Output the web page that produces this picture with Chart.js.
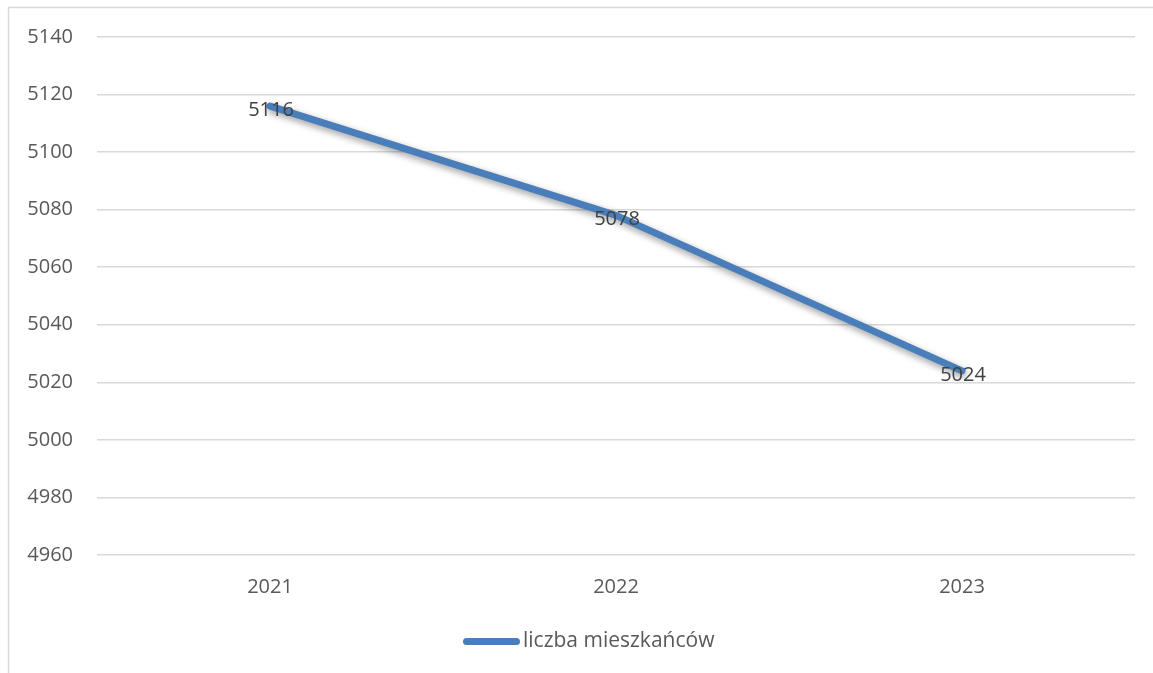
<!DOCTYPE html>
<html><head><meta charset="utf-8">
<script src="https://cdn.jsdelivr.net/npm/chart.js@4"></script>
<style>html,body{margin:0;padding:0;background:#fff;}#wrap{width:1153px;height:673px;}</style>
</head><body><div id="wrap"><canvas id="c" width="1153" height="673"></canvas></div>
<script>
const categories = ['2021', '2022', '2023'];
const residents = [5116, 5078, 5024];
const seriesName = 'liczba mieszkańców';
const yTicks = [4960, 4980, 5000, 5020, 5040, 5060, 5080, 5100, 5120, 5140];

const FONT = "'Open Sans', sans-serif";
const TXT = '#595959';
const BLUE = '#4a7ebb';

const framePlugin = {
  id: 'frame',
  beforeDraw(chart) {
    const ctx = chart.ctx;
    ctx.save();
    ctx.fillStyle = '#fff';
    ctx.fillRect(0, 0, chart.width, chart.height);
    ctx.strokeStyle = '#d9d9d9';
    ctx.lineWidth = 1.5;
    ctx.strokeRect(8.5, 7.5, chart.width + 20, chart.height + 20);
    ctx.restore();
  }
};
const shadowPlugin = {
  id: 'lineShadow',
  beforeDatasetDraw(chart) {
    const ctx = chart.ctx;
    ctx.save();
    ctx.shadowColor = 'rgba(0,0,0,0.4)';
    ctx.shadowBlur = 7;
    ctx.shadowOffsetX = 1;
    ctx.shadowOffsetY = 3;
  },
  afterDatasetDraw(chart) { chart.ctx.restore(); }
};
const labelPlugin = {
  id: 'valLabels',
  afterDatasetsDraw(chart) {
    const ctx = chart.ctx;
    const meta = chart.getDatasetMeta(0);
    ctx.save();
    ctx.font = '20px ' + FONT;
    ctx.fillStyle = '#404040';
    ctx.textAlign = 'center';
    ctx.textBaseline = 'middle';
    meta.data.forEach((pt, i) => {
      ctx.fillText(String(chart.data.datasets[0].data[i]), pt.x + 1, pt.y + 4);
    });
    ctx.restore();
  }
};
const legendPlugin = {
  id: 'bottomLegend',
  afterDraw(chart) {
    const ctx = chart.ctx;
    const ds = chart.data.datasets[0];
    ctx.save();
    ctx.fillStyle = ds.borderColor;
    const x = 463, y = 638, w = 57, h = 7, r = 3.5;
    ctx.beginPath();
    ctx.roundRect(x, y, w, h, r);
    ctx.fill();
    ctx.font = '21px ' + FONT;
    ctx.fillStyle = TXT;
    ctx.textAlign = 'left';
    ctx.textBaseline = 'middle';
    ctx.fillText(ds.label, x + w + 3, y + h / 2);
    ctx.restore();
  }
};

new Chart(document.getElementById('c'), {
  type: 'line',
  data: {
    labels: categories,
    datasets: [{
      label: seriesName,
      data: residents,
      borderColor: BLUE,
      backgroundColor: BLUE,
      borderWidth: 7,
      borderCapStyle: 'round',
      borderJoinStyle: 'round',
      pointRadius: 0,
      tension: 0
    }]
  },
  options: {
    responsive: false,
    animation: false,
    devicePixelRatio: 1,
    layout: { padding: { top: 37, right: 18, left: 0, bottom: 60 } },
    plugins: {
      tooltip: { enabled: false },
      legend: { display: false }
    },
    scales: {
      x: {
        offset: true,
        grid: { display: false, drawTicks: false },
        border: { display: false },
        ticks: { font: { family: FONT, size: 20 }, color: TXT, padding: 20, maxRotation: 0 },
        afterFit(s) { s.height = 58; }
      },
      y: {
        min: 4960, max: 5140,
        afterBuildTicks(s) { s.ticks = yTicks.map(v => ({ value: v })); },
        grid: { color: '#d9d9d9', lineWidth: 1.5, drawTicks: false },
        border: { display: false },
        ticks: { font: { family: FONT, size: 20 }, color: TXT, padding: 24, callback: v => String(v) },
        afterFit(s) { s.width = 97; }
      }
    }
  },
  plugins: [framePlugin, shadowPlugin, labelPlugin, legendPlugin]
});
</script></body></html>
